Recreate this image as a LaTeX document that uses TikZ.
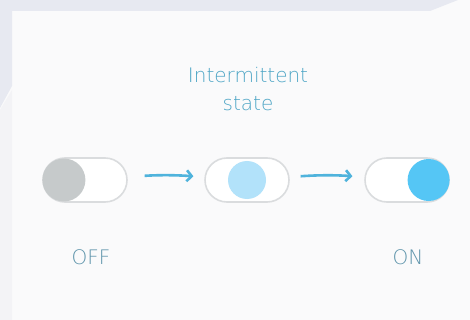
\documentclass[tikz,border=0pt]{standalone}
\usepackage{fontspec}
\setmainfont{DejaVu Sans ExtraLight}
\usetikzlibrary{shapes.misc,arrows.meta}
\definecolor{bandgray}{HTML}{E7E9F1}
\definecolor{panel}{HTML}{FAFAFB}
\definecolor{lowleft}{HTML}{F3F3F6}
\definecolor{pillline}{HTML}{DADCDE}
\definecolor{offknob}{HTML}{C6CACB}
\definecolor{midknob}{HTML}{B2E2FA}
\definecolor{onknob}{HTML}{55C6F5}
\definecolor{arrowblue}{HTML}{4FB3DC}
\definecolor{titleblue}{HTML}{4FA6C6}
\definecolor{labelgray}{HTML}{5E94AB}

\begin{document}
\begin{tikzpicture}[x=1pt, y=-1pt,
  pill/.style={draw=pillline, line width=1.6pt, fill=white, rounded rectangle, minimum width=84pt, minimum height=44pt, inner sep=0pt},
  knob/.style={circle, inner sep=0pt, minimum size=#1},
  arr/.style={-{Straight Barb[length=5pt, width=11pt]}, line width=2.6pt, arrowblue},
  lbl/.style={font=\fontsize{20}{28}\selectfont, text=labelgray}
]
  \useasboundingbox (0,0) rectangle (470,320);
  % background panel and margins
  \fill[panel] (0,0) rectangle (470,320);
  \fill[bandgray] (0,0) -- (458,0) -- (430,11) -- (12,11) -- (12,86) -- (0,108) -- cycle;
  \fill[lowleft] (0,110) -- (12,90) -- (12,320) -- (0,320) -- cycle;

  % switches
  \node[pill] (off) at (85,180)  {};
  \node[pill] (mid) at (247,180) {};
  \node[pill] (on)  at (407,180) {};
  \node[knob=43pt, fill=offknob, anchor=west] (offk) at (off.west) {};
  \node[knob=38pt, fill=midknob] (midk) at (mid) {};
  \node[knob=42pt, fill=onknob, anchor=east] (onk) at (on.east) {};

  \draw[arr, shorten <=17pt, shorten >=11pt] (off) to[bend left=4] (mid);
  \draw[arr, shorten <=11pt, shorten >=12pt] (mid) to[bend left=4] (on);

  % labels
  \node[lbl, text=titleblue, align=center] (title) at (248,89) {Intermittent\\state};
  \node[lbl] (offlbl) at (91,257) {OFF};
  \node[lbl] (onlbl)  at (408,257) {ON};
\end{tikzpicture}
\end{document}
